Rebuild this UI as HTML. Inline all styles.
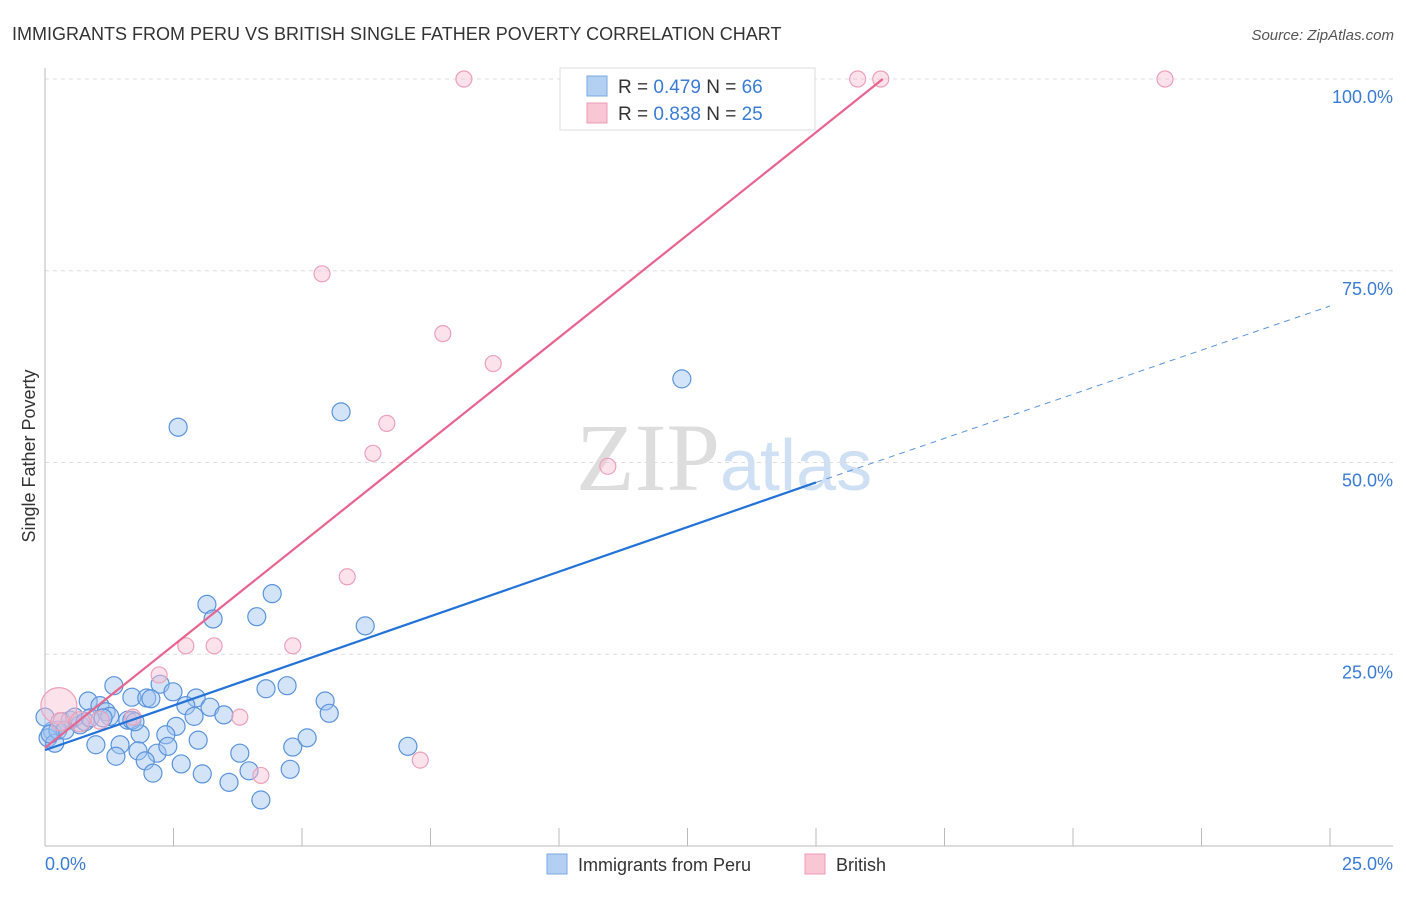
<!DOCTYPE html>
<html><head><meta charset="utf-8"><style>
body{margin:0;background:#fff;font-family:"Liberation Sans",sans-serif}
</style></head><body>
<svg id="c" width="1406" height="892" xmlns="http://www.w3.org/2000/svg">
<text x="12" y="40" font-size="18" fill="#333">IMMIGRANTS FROM PERU VS BRITISH SINGLE FATHER POVERTY CORRELATION CHART</text>
<text x="1394" y="40" font-size="15" fill="#555" font-style="italic" text-anchor="end">Source: ZipAtlas.com</text>
<text x="35" y="456" font-size="18" fill="#333" transform="rotate(-90 35 456)" text-anchor="middle">Single Father Poverty</text>
<text x="720" y="490" font-size="96" fill="#ddd" text-anchor="end" font-family="Liberation Serif">ZIP</text>
<text x="720" y="490" font-size="72" fill="#cfe0f4">atlas</text>
<g id="grid"></g><g id="pts"></g><g id="lines"></g>
<g>
<rect x="560" y="68" width="255" height="62" fill="#fff" stroke="#ddd"/>
<rect x="587" y="76" width="20" height="20" fill="#b3d0f3" stroke="#7aa8e0"/>
<text x="618" y="93" font-size="19" fill="#333">R = <tspan fill="#3a7bd5">0.479</tspan>   N = <tspan fill="#3a7bd5">66</tspan></text>
<rect x="587" y="103" width="20" height="20" fill="#f9c6d4" stroke="#ec9bb3"/>
<text x="618" y="120" font-size="19" fill="#333">R = <tspan fill="#3a7bd5">0.838</tspan>   N = <tspan fill="#3a7bd5">25</tspan></text>
</g>
<g>
<rect x="547" y="854" width="20" height="20" fill="#b3d0f3" stroke="#7aa8e0"/>
<text x="578" y="871" font-size="18" fill="#333">Immigrants from Peru</text>
<rect x="805" y="854" width="20" height="20" fill="#f9c6d4" stroke="#ec9bb3"/>
<text x="836" y="871" font-size="18" fill="#333">British</text>
</g>
</svg>
<script>
const yTicks=[25,50,75,100];
const xTickLabels=["0.0%","25.0%"];
const blueX=[3.15,4.42,3.27,4.12,2.59,5.76,12.39,6.23,1.34,2.24,2.49,1.69,1.98,2.06,2.94,4.3,4.71,5.45,0.84,1.07,2.74,3.21,5.53,1.19,2.9,3.48,1.61,1.85,2.55,2.35,0.33,0.49,0.68,0.14,0.06,0.19,0.99,1.46,1.81,2.18,2.39,2.98,4.82,5.1,7.06,3.79,1.38,1.95,2.65,3.97,4.77,3.06,2.1,3.58,4.2,0.58,0.78,1.26,1.69,0.25,0.39,0.88,1.13,1.75,0,0.1];
const blueY=[31.5,32.9,29.6,29.9,54.6,56.6,60.9,28.7,20.9,21.1,20.1,19.4,19.3,19.2,19.3,20.5,20.9,18.9,18.9,18.3,18.3,18.1,17.3,17.5,16.9,17.1,16.4,14.6,15.6,14.5,16.2,16.4,15.8,15,14.1,13.4,13.2,13.2,12.4,12.1,13,13.8,12.9,14.1,13,12.1,11.7,11.1,10.7,9.8,10,9.4,9.5,8.3,6,16.8,16.2,16.9,16.4,15.1,15.1,16.7,16.7,16.2,16.8,14.6];
const pinkX=[8.15,10.23,15.81,16.26,21.79,13.39,5.39,7.74,8.72,6.65,6.38,10.95,5.88,2.74,3.29,4.82,2.22,3.79,1.71,4.2,7.3,0.27,0.68,1.07,0.29];
const pinkY=[100,100,100,100,100,100,74.6,66.8,62.9,55.1,51.2,49.5,35.1,26.1,26.1,26.1,22.3,16.8,16.8,9.2,11.2,18.3,16.2,16.4,16.2];
const pinkR=[8,8,8,8,8,8,8,8,8,8,8,8,8,8,8,8,8,8,8,8,8,18,10,9,9];
const blueLine=[0,12.5,15,47.4,25,70.4];
const pinkLine=[0,12.8,16.3,100];
const X=v=>45+v*51.4, Y=v=>846-v*7.67;
const NS="http://www.w3.org/2000/svg";
function mk(t,a,p){const e=document.createElementNS(NS,t);for(const k in a)e.setAttribute(k,a[k]);p.appendChild(e);return e;}
const svg=document.getElementById('c'),g=document.getElementById('grid'),pg=document.getElementById('pts'),lg=document.getElementById('lines');
yTicks.forEach(t=>{const l=mk('line',{x1:45,x2:1393,y1:Y(t),y2:Y(t),stroke:'#ddd','stroke-dasharray':'4,4'},g);

const tx=mk('text',{x:1393,y:Y(t)+24,'font-size':18,fill:'#3a7bd5','text-anchor':'end'},g);tx.textContent=t.toFixed(1)+'%';
});
let ax=mk('line',{x1:45,x2:1393,y1:846,y2:846,stroke:'#bbb'},g);
let ay=mk('line',{x1:45,x2:45,y1:68,y2:846,stroke:'#bbb'},g);
for(let i=1;i<=10;i++){const t=mk('line',{x1:X(i*2.5),x2:X(i*2.5),y1:828,y2:846,stroke:'#bbb'},g);}
let t0=mk('text',{x:45,y:870,'font-size':18,fill:'#3a7bd5'},g);t0.textContent=xTickLabels[0];
let t1=mk('text',{x:1393,y:870,'font-size':18,fill:'#3a7bd5','text-anchor':'end'},g);t1.textContent=xTickLabels[1];
blueX.forEach((v,i)=>{const c=mk('circle',{cx:X(v),cy:Y(blueY[i]),r:9,fill:'rgba(160,195,240,0.45)',stroke:'#5a93dc','stroke-width':1.2},pg);
});
pinkX.forEach((v,i)=>{const c=mk('circle',{cx:X(v),cy:Y(pinkY[i]),r:pinkR[i],fill:'rgba(248,190,208,0.45)',stroke:'#eda0b8','stroke-width':1.2},pg);
});
let b1=mk('line',{x1:X(blueLine[0]),y1:Y(blueLine[1]),x2:X(blueLine[2]),y2:Y(blueLine[3]),stroke:'#2272d8','stroke-width':2.2},lg);

let b2=mk('line',{x1:X(blueLine[2]),y1:Y(blueLine[3]),x2:X(blueLine[4]),y2:Y(blueLine[5]),stroke:'#5a93dc','stroke-width':1,'stroke-dasharray':'6,5'},lg);

let p1=mk('line',{x1:X(pinkLine[0]),y1:Y(pinkLine[1]),x2:X(pinkLine[2]),y2:Y(pinkLine[3]),stroke:'#e8648e','stroke-width':2.2},lg);

</script>
</body></html>
